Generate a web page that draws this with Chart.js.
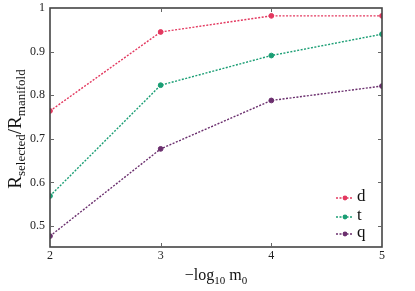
<!DOCTYPE html>
<html><head><meta charset="utf-8">
<script src="https://cdn.jsdelivr.net/npm/chart.js@4"></script>
<style>html,body{margin:0;padding:0;background:#fff}#wrap{width:415px;height:291px;position:relative}</style>
</head><body><div id="wrap"><canvas id="c"></canvas></div>
<script>
const xValues = [2, 3, 4, 5];
const dValues = [0.764, 0.945, 0.982, 0.982];
const tValues = [0.569, 0.823, 0.891, 0.940];
const qValues = [0.477, 0.677, 0.788, 0.821];
const seriesNames = ['d', 't', 'q'];
const yTicks = [0.5, 0.6, 0.7, 0.8, 0.9, 1.0];
const xTicks = [2, 3, 4, 5];

const colors = ['#e3385f', '#1a9e74', '#6b2f6e'];
const FONT = "'Liberation Serif', 'DejaVu Serif', serif";

function pts(vals){ return xValues.map((x,i)=>({x:x, y:vals[i]})); }

const ds = [dValues, tValues, qValues].map((v,i)=>({
  label: seriesNames[i], data: pts(v), borderColor: colors[i], backgroundColor: colors[i],
  borderWidth: 1.4, borderDash: [2,1.5], pointRadius: 2.4, pointBorderWidth: 1,
  pointBackgroundColor: colors[i], pointBorderColor: colors[i], tension: 0, fill: false
}));

const decor = {
  id: 'decor',
  afterDraw(chart){
    const ctx = chart.ctx, a = chart.chartArea;
    const xs = chart.scales.x, ys = chart.scales.y;
    ctx.save();
    ctx.strokeStyle = '#444'; ctx.lineWidth = 1.6;
    ctx.strokeRect(a.left, a.top, a.right - a.left, a.bottom - a.top);
    ctx.strokeStyle = '#666'; ctx.lineWidth = 1;
    yTicks.forEach(v=>{ const y = Math.round(ys.getPixelForValue(v))+0.5;
      if (v<1){ ctx.beginPath(); ctx.moveTo(a.right, y); ctx.lineTo(a.right-4, y); ctx.stroke();
      ctx.beginPath(); ctx.moveTo(a.left, y); ctx.lineTo(a.left+4, y); ctx.stroke(); }});
    xTicks.forEach(v=>{ const x = Math.round(xs.getPixelForValue(v))+0.5;
      if (v>2 && v<5){ ctx.beginPath(); ctx.moveTo(x, a.bottom); ctx.lineTo(x, a.bottom-4); ctx.stroke();
      ctx.beginPath(); ctx.moveTo(x, a.top); ctx.lineTo(x, a.top+4); ctx.stroke(); }});
    // legend
    ctx.textBaseline = 'middle'; ctx.textAlign = 'left';
    ctx.font = '17px ' + FONT;
    const ly = [198, 217, 234];
    chart.data.datasets.forEach((d,i)=>{
      ctx.strokeStyle = d.borderColor; ctx.lineWidth = 1.4; ctx.setLineDash([2,1.5]);
      ctx.beginPath(); ctx.moveTo(336, ly[i]); ctx.lineTo(353, ly[i]); ctx.stroke();
      ctx.setLineDash([]);
      ctx.fillStyle = d.borderColor; ctx.beginPath(); ctx.arc(345, ly[i], 2.4, 0, Math.PI*2); ctx.fill();
      ctx.fillStyle = '#111'; ctx.fillText(d.label, 357, ly[i]-1);
    });
    // x title
    ctx.fillStyle = '#111'; ctx.textBaseline = 'alphabetic';
    const parts = [['−log', 16, 0], ['10', 11, 4], [' m', 16, 0], ['0', 11, 4]];
    let w = 0; parts.forEach(p=>{ ctx.font = p[1]+'px '+FONT; w += ctx.measureText(p[0]).width; });
    let x = (a.left + a.right)/2 - w/2; const by = 280;
    parts.forEach(p=>{ ctx.font = p[1]+'px '+FONT; ctx.fillText(p[0], x, by + p[2]); x += ctx.measureText(p[0]).width; });
    // y title
    ctx.translate(21, 129); ctx.rotate(-Math.PI/2);
    const yp = [['R', 19, 0], ['selected', 13, 4], ['/R', 19, 0], ['manifold', 13, 4]];
    w = 0; yp.forEach(p=>{ ctx.font = p[1]+'px '+FONT; w += ctx.measureText(p[0]).width; });
    x = -w/2;
    yp.forEach(p=>{ ctx.font = p[1]+'px '+FONT; ctx.fillText(p[0], x, p[2]); x += ctx.measureText(p[0]).width; });
    ctx.restore();
  }
};

new Chart(document.getElementById('c'), {
  type: 'line',
  data: { datasets: ds },
  options: {
    responsive: true, maintainAspectRatio: false, animation: false,
    layout: { padding: { left: 0, right: 33, top: 8, bottom: 0 } },
    plugins: { legend: { display: false }, tooltip: { enabled: false } },
    scales: {
      x: { type: 'linear', min: 2, max: 5,
        afterBuildTicks: s => { s.ticks = xTicks.map(v=>({value:v})); },
        afterFit: s => { s.height = 44; s.paddingLeft = 0; s.paddingRight = 0; },
        grid: { display: false, tickLength: 0 }, border: { display: false },
        ticks: { color: '#222', font: { family: FONT, size: 12 }, padding: 2, maxRotation: 0,
          callback: v => String(v) } },
      y: { type: 'linear', min: 0.452, max: 1.0,
        afterBuildTicks: s => { s.ticks = yTicks.map(v=>({value:v})); },
        afterFit: s => { s.width = 50; s.paddingTop = 0; s.paddingBottom = 0; },
        grid: { display: false, tickLength: 0 }, border: { display: false },
        ticks: { color: '#222', font: { family: FONT, size: 12 }, padding: 5,
          callback: v => v === 1 ? '1' : Number(v).toFixed(1) } }
    }
  },
  plugins: [decor]
});
</script></body></html>
